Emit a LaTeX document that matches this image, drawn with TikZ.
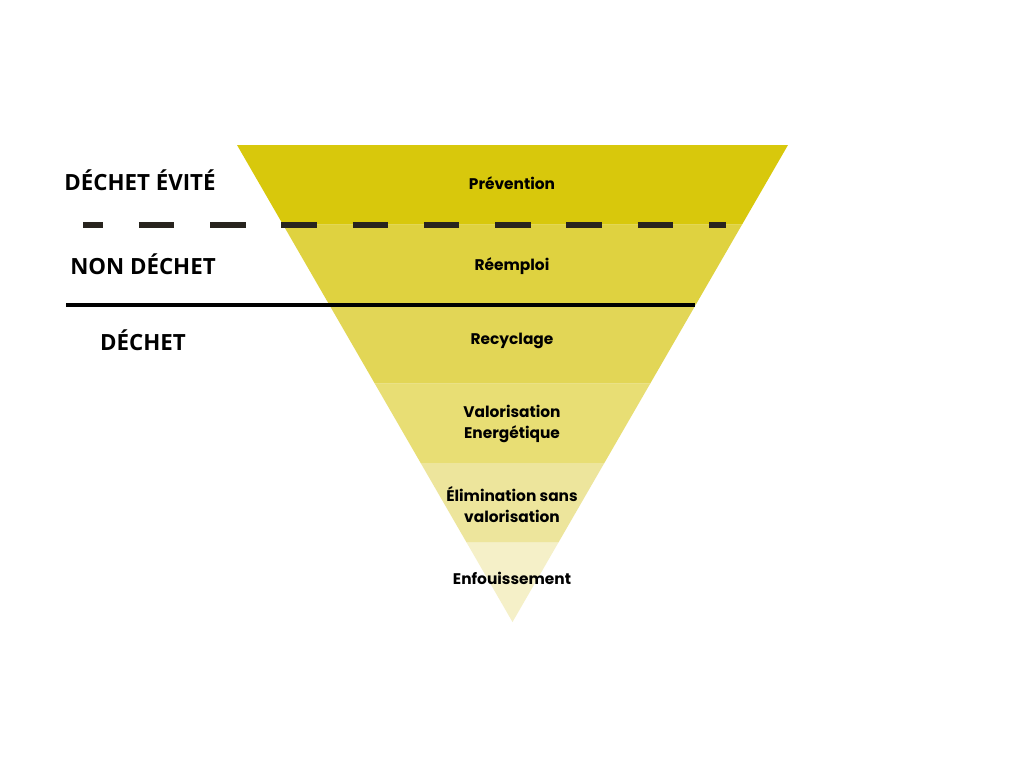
\documentclass[tikz,border=0pt]{standalone}
\usepackage{fontspec}
\newfontfamily\labfont{Poppins}
\newfontfamily\sidefont{Open Sans}
\definecolor{b1}{RGB}{216,200,12}
\definecolor{b2}{RGB}{223,210,64}
\definecolor{b3}{RGB}{226,214,86}
\definecolor{b4}{RGB}{232,222,116}
\definecolor{b5}{RGB}{237,229,156}
\definecolor{b6}{RGB}{245,240,200}
\definecolor{dashc}{RGB}{40,36,30}
\tikzset{
  lab/.style={font=\labfont\bfseries\fontsize{15.4}{21}\selectfont, align=center, text=black, inner sep=0pt},
  side/.style={font=\sidefont\bfseries\fontsize{22.3}{24}\selectfont, text=black, inner sep=0pt},
}
\begin{document}
\begin{tikzpicture}[x=1pt,y=-1pt]
\useasboundingbox (0,0) rectangle (1024,768);
\fill[white] (0,0) rectangle (1024,768);
% triangle: top (237,145)-(788,145), apex (512.5,622)
\foreach \t/\b/\c in {145/224.5/b1, 224.5/304/b2, 304/383.5/b3, 383.5/463/b4, 463/542.5/b5} {
  \pgfmathsetmacro{\wt}{0.577568*(622-\t)}
  \pgfmathsetmacro{\wb}{0.577568*(622-\b)}
  \fill[\c] (512.5-\wt,\t) -- (512.5+\wt,\t) -- (512.5+\wb,\b) -- (512.5-\wb,\b) -- cycle;
}
\pgfmathsetmacro{\wt}{0.577568*(622-542.5)}
\fill[b6] (512.5-\wt,542.5) -- (512.5+\wt,542.5) -- (512.5,622) -- cycle;
% lines
\coordinate (dA) at (83,225);
\coordinate (dB) at (726,225);
\draw[dashc, line width=6pt, dash pattern=on 35.5pt off 35.75pt, dash phase=15.5pt] (dA) -- (dB);
\coordinate (sA) at (66,305);
\coordinate (sB) at (695,305);
\draw[black, line width=4pt] (sA) -- (sB);
% labels
\node[lab] (p1) at (512,183) {Prévention};
\node[lab] (p2) at (512,266) {Réemploi};
\node[lab] (p3) at (512,341) {Recyclage};
\node[lab] (p4) at (512,423.5) {Valorisation\\Energétique};
\node[lab] (p5) at (512,505) {Élimination sans\\valorisation};
\node[lab] (p6) at (512,578.5) {Enfouissement};
\node[side] (s1) at (140,180) {DÉCHET ÉVITÉ};
\node[side] (s2) at (143,264) {NON DÉCHET};
\node[side] (s3) at (143,340) {DÉCHET};
\end{tikzpicture}
\end{document}
